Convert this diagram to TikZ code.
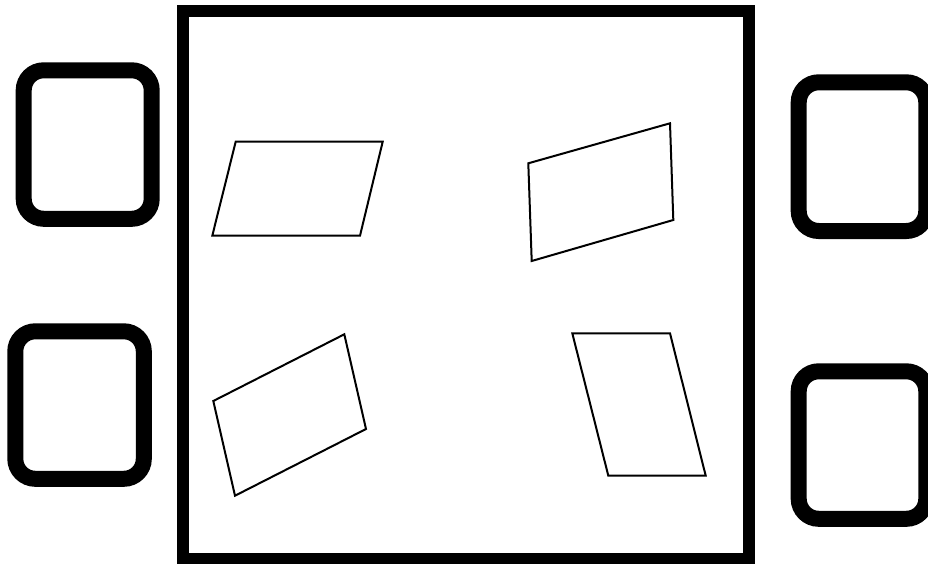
\documentclass[tikz,border=0pt]{standalone}
\begin{document}
\begin{tikzpicture}[x=1pt,y=-1pt,
  frame/.style={draw=black,line width=11.5pt,line join=miter},
  pad/.style={draw=black,line width=16pt,rounded corners=20pt},
  quad/.style={draw=black,line width=2pt,line join=miter}]
\useasboundingbox (0,0) rectangle (928,564);
\clip (0,0) rectangle (928,564);
% big frame
\draw[frame] (183,11) rectangle (749,559);
% side pads
\draw[pad] (23.7,70.3) rectangle (151.7,218.8);
\draw[pad] (15.3,331.3) rectangle (143.8,478.8);
\draw[pad] (798.7,82.3) rectangle (926.3,231);
\draw[pad] (798.7,371.3) rectangle (926.3,518.8);
% parallelograms
\coordinate (a1) at (235.7,141.7);
\coordinate (a2) at (382.7,141.7);
\coordinate (a3) at (360,235.7);
\coordinate (a4) at (212.3,235.7);
\draw[quad] (a1) -- (a2) -- (a3) -- (a4) -- cycle;
\coordinate (b1) at (528.3,163.3);
\coordinate (b2) at (670,123.3);
\coordinate (b3) at (673.3,220);
\coordinate (b4) at (531.7,261);
\draw[quad] (b1) -- (b2) -- (b3) -- (b4) -- cycle;
\coordinate (c1) at (213.3,401);
\coordinate (c2) at (344.3,334.3);
\coordinate (c3) at (366,429);
\coordinate (c4) at (235,495.7);
\draw[quad] (c1) -- (c2) -- (c3) -- (c4) -- cycle;
\coordinate (d1) at (572.3,333.3);
\coordinate (d2) at (670,333.3);
\coordinate (d3) at (705.7,475.7);
\coordinate (d4) at (608.3,475.7);
\draw[quad] (d1) -- (d2) -- (d3) -- (d4) -- cycle;
\end{tikzpicture}
\end{document}
